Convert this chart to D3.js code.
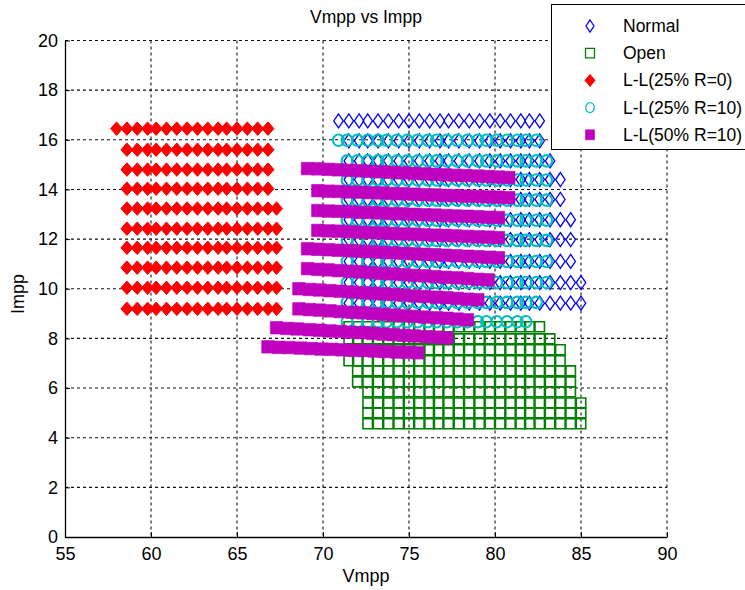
<!DOCTYPE html>
<html>
<head>
<meta charset="utf-8">
<script src="https://cdn.jsdelivr.net/npm/d3@7"></script>
<style>
body { margin: 0; background: #fff; }
text { font-family: "Liberation Sans", Arial, sans-serif; fill: #000; }
</style>
</head>
<body>
<div id="chart"></div>
<script>
// ---- data (Vmpp on x, Impp on y) ----
var xTicks = [55, 60, 65, 70, 75, 80, 85, 90];
var yTicks = [0, 2, 4, 6, 8, 10, 12, 14, 16, 18, 20];
var seriesNames = ["Normal", "Open", "L-L(25% R=0)", "L-L(25% R=10)", "L-L(50% R=10)"];

// Normal: grid of columns (Vmpp) and rows (Impp), each row uses a range of columns
var normalCols = [70.9, 71.5, 72.1, 72.6, 73.2, 73.8, 74.4, 75.0, 75.6, 76.2, 76.8, 77.3, 77.9,
                  78.5, 79.1, 79.7, 80.3, 80.9, 81.5, 82.0, 82.6, 83.2, 83.8, 84.4, 85.0];
var normalRowI = [16.76, 15.96, 15.15, 14.40, 13.60, 12.78, 11.98, 11.10, 10.25, 9.42];
var normalFrom = [0, 1, 1, 1, 1, 1, 1, 1, 1, 1];
var normalTo   = [20, 20, 21, 22, 22, 23, 23, 23, 24, 24];

// Open
var openCols = [71.5, 72.0, 72.6, 73.2, 73.8, 74.4, 75.0, 75.6, 76.2, 76.7, 77.3, 77.9,
                78.5, 79.1, 79.7, 80.3, 80.9, 81.5, 82.0, 82.6, 83.2, 83.8, 84.4, 85.0];
var openRowI = [8.47, 7.98, 7.54, 7.10, 6.69, 6.25, 5.85, 5.40, 5.00, 4.56];
var openFrom = [0, 0, 0, 0, 1, 1, 2, 2, 2, 2];
var openTo   = [19, 20, 21, 21, 22, 22, 22, 23, 23, 23];

// L-L(25% R=0)
var ll0Cols = [58.0, 58.6, 59.2, 59.8, 60.3, 60.9, 61.5, 62.1, 62.7, 63.3, 63.9, 64.4,
               65.0, 65.6, 66.2, 66.8, 67.3];
var ll0RowI = [16.45, 15.60, 14.80, 14.03, 13.23, 12.42, 11.65, 10.85, 10.04, 9.19];
var ll0From = [0, 1, 1, 1, 1, 1, 1, 1, 1, 1];
var ll0To   = [15, 15, 15, 15, 16, 16, 16, 16, 16, 16];

// L-L(25% R=10)
var ll25Cols = [70.9, 71.4, 72.0, 72.6, 73.2, 73.7, 74.3, 74.9, 75.5, 76.1, 76.6, 77.2,
                77.8, 78.4, 79.0, 79.5, 80.1, 80.7, 81.3, 81.8, 82.4, 83.0, 83.6];
var ll25RowI = [15.98, 15.15, 14.38, 13.57, 12.76, 11.95, 11.10, 10.25, 9.45, 8.67];
var ll25From = [0, 1, 1, 1, 1, 1, 1, 1, 1, 1];
var ll25To   = [20, 21, 21, 21, 21, 21, 21, 21, 20, 19];

// L-L(50% R=10): dense rows, each row listed point by point
var ll50V = [
  [69.1, 69.7, 70.3, 70.9, 71.6, 72.2, 72.8, 73.4, 74.0, 74.6, 75.3, 75.9, 76.5, 77.1, 77.7, 78.3, 79.0, 79.6, 80.2, 80.8],
  [69.7, 70.3, 70.9, 71.5, 72.2, 72.8, 73.4, 74.0, 74.6, 75.3, 75.9, 76.5, 77.1, 77.7, 78.3, 79.0, 79.6, 80.2, 80.8],
  [69.7, 70.3, 70.9, 71.6, 72.2, 72.8, 73.4, 74.0, 74.6, 75.3, 75.9, 76.5, 77.1, 77.7, 78.4, 79.0, 79.6, 80.2],
  [69.7, 70.3, 70.9, 71.6, 72.2, 72.8, 73.4, 74.0, 74.6, 75.3, 75.9, 76.5, 77.1, 77.7, 78.4, 79.0, 79.6, 80.2],
  [69.1, 69.7, 70.3, 70.9, 71.6, 72.2, 72.8, 73.4, 74.0, 74.7, 75.3, 75.9, 76.5, 77.1, 77.7, 78.4, 79.0, 79.6, 80.2],
  [69.1, 69.7, 70.3, 70.9, 71.6, 72.2, 72.8, 73.4, 74.0, 74.7, 75.3, 75.9, 76.5, 77.1, 77.8, 78.4, 79.0, 79.6],
  [68.6, 69.2, 69.8, 70.4, 71.0, 71.7, 72.3, 72.9, 73.5, 74.1, 74.7, 75.3, 75.9, 76.6, 77.2, 77.8, 78.4, 79.0],
  [68.6, 69.2, 69.8, 70.4, 71.0, 71.7, 72.3, 72.9, 73.5, 74.1, 74.7, 75.3, 75.9, 76.6, 77.2, 77.8, 78.4],
  [67.3, 67.9, 68.5, 69.2, 69.8, 70.4, 71.0, 71.6, 72.3, 72.9, 73.5, 74.1, 74.7, 75.3, 76.0, 76.6, 77.2],
  [66.8, 67.4, 68.0, 68.7, 69.3, 69.9, 70.5, 71.1, 71.8, 72.4, 73.0, 73.6, 74.3, 74.9, 75.5]
];
var ll50I = [
  [14.84, 14.83, 14.81, 14.79, 14.77, 14.75, 14.73, 14.71, 14.69, 14.67, 14.65, 14.63, 14.61, 14.59, 14.57, 14.56, 14.54, 14.52, 14.50, 14.48],
  [13.95, 13.93, 13.92, 13.90, 13.89, 13.87, 13.86, 13.84, 13.83, 13.81, 13.79, 13.78, 13.76, 13.75, 13.73, 13.72, 13.70, 13.69, 13.67],
  [13.15, 13.13, 13.12, 13.10, 13.08, 13.07, 13.05, 13.03, 13.02, 13.00, 12.98, 12.97, 12.95, 12.93, 12.92, 12.90, 12.88, 12.87],
  [12.35, 12.33, 12.32, 12.30, 12.28, 12.26, 12.25, 12.23, 12.21, 12.20, 12.18, 12.16, 12.15, 12.13, 12.11, 12.09, 12.08, 12.06],
  [11.61, 11.59, 11.57, 11.55, 11.53, 11.51, 11.49, 11.47, 11.45, 11.43, 11.41, 11.39, 11.37, 11.35, 11.33, 11.31, 11.29, 11.27, 11.25],
  [10.81, 10.78, 10.76, 10.73, 10.70, 10.68, 10.65, 10.62, 10.60, 10.57, 10.54, 10.52, 10.49, 10.46, 10.44, 10.41, 10.38, 10.36],
  [10.00, 9.97, 9.95, 9.92, 9.90, 9.87, 9.84, 9.82, 9.79, 9.77, 9.74, 9.71, 9.69, 9.66, 9.64, 9.61, 9.58, 9.56],
  [9.19, 9.16, 9.14, 9.11, 9.08, 9.05, 9.03, 9.00, 8.97, 8.94, 8.92, 8.89, 8.86, 8.83, 8.81, 8.78, 8.75],
  [8.43, 8.40, 8.38, 8.35, 8.33, 8.30, 8.28, 8.25, 8.23, 8.20, 8.17, 8.15, 8.12, 8.10, 8.07, 8.05, 8.02],
  [7.66, 7.64, 7.63, 7.61, 7.59, 7.57, 7.56, 7.54, 7.52, 7.51, 7.49, 7.47, 7.45, 7.44, 7.42]
];

function gridPoints(cols, rowI, from, to) {
    var pts = [];
    for (var r = 0; r < rowI.length; r++) {
        for (var c = from[r]; c <= to[r]; c++) {
            pts.push({v: cols[c], i: rowI[r]});
        }
    }
    return pts;
}

function listPoints(vRows, iRows) {
    var pts = [];
    for (var r = 0; r < vRows.length; r++) {
        for (var k = 0; k < vRows[r].length; k++) {
            pts.push({v: vRows[r][k], i: iRows[r][k]});
        }
    }
    return pts;
}

// marker shapes (w, h in px)
function diamondPath(w, h) {
    return "M0," + (-h / 2) + "L" + (w / 2) + ",0L0," + (h / 2) + "L" + (-w / 2) + ",0Z";
}
function squarePath(w, h) {
    return "M" + (-w / 2) + "," + (-h / 2) + "h" + w + "v" + h + "h" + (-w) + "Z";
}
function ellipsePath(w, h) {
    var rx = w / 2, ry = h / 2;
    return "M" + (-rx) + ",0A" + rx + "," + ry + " 0 1,0 " + rx + ",0A" + rx + "," + ry + " 0 1,0 " + (-rx) + ",0Z";
}

var series = [
    {name: seriesNames[0], pts: gridPoints(normalCols, normalRowI, normalFrom, normalTo),
     path: diamondPath(9.5, 14), legPath: diamondPath(8, 12), fill: "none", stroke: "#0000ff", sw: 1.3},
    {name: seriesNames[1], pts: gridPoints(openCols, openRowI, openFrom, openTo),
     path: squarePath(9.5, 10), legPath: squarePath(9, 9.5), fill: "none", stroke: "#008000", sw: 1.6},
    {name: seriesNames[2], pts: gridPoints(ll0Cols, ll0RowI, ll0From, ll0To),
     path: diamondPath(12, 13.5), legPath: diamondPath(10, 12), fill: "#ff0000", stroke: "#ff0000", sw: 1},
    {name: seriesNames[3], pts: gridPoints(ll25Cols, ll25RowI, ll25From, ll25To),
     path: ellipsePath(11, 11.5), legPath: ellipsePath(8.5, 10), fill: "none", stroke: "#00bfbf", sw: 2.1},
    {name: seriesNames[4], pts: listPoints(ll50V, ll50I),
     path: squarePath(12.5, 12.5), legPath: squarePath(9, 10), fill: "#bf00bf", stroke: "#bf00bf", sw: 0.6}
];

var margin = {top: 40.5, right: 78, bottom: 53, left: 65},
    width = 745 - margin.left - margin.right,
    height = 590 - margin.top - margin.bottom;

var svgRoot = d3.select("#chart")
    .append("svg")
    .attr("width", 745)
    .attr("height", 590);

var svg = svgRoot.append("g")
    .attr("transform", "translate(" + margin.left + "," + margin.top + ")");

var x = d3.scaleLinear().domain([55, 90]).range([0, width]);
var y = d3.scaleLinear().domain([0, 20]).range([height, 0]);

// dotted grid
svg.append("g").selectAll("line")
    .data(xTicks.slice(1))
    .enter().append("line")
    .attr("x1", function(d) { return x(d); })
    .attr("x2", function(d) { return x(d); })
    .attr("y1", 0).attr("y2", height)
    .style("stroke", "#111").style("stroke-width", 1.1).style("stroke-dasharray", "3,3");

svg.append("g").selectAll("line")
    .data(yTicks.slice(1))
    .enter().append("line")
    .attr("y1", function(d) { return y(d); })
    .attr("y2", function(d) { return y(d); })
    .attr("x1", 0).attr("x2", width)
    .style("stroke", "#111").style("stroke-width", 1.1).style("stroke-dasharray", "3,3");

// scatter markers
series.forEach(function(s) {
    svg.append("g").selectAll("path")
        .data(s.pts)
        .enter().append("path")
        .attr("d", s.path)
        .attr("transform", function(d) { return "translate(" + x(d.v) + "," + y(d.i) + ")"; })
        .style("fill", s.fill)
        .style("stroke", s.stroke)
        .style("stroke-width", s.sw);
});

// axes
var xAxis = svg.append("g")
    .attr("transform", "translate(0," + height + ")")
    .call(d3.axisBottom(x).tickValues(xTicks).tickSizeInner(-5).tickSizeOuter(0).tickPadding(8));
xAxis.selectAll("text").attr("y", 23).attr("dy", 0)
    .style("font-size", "18px").style("font-family", "Liberation Sans, Arial, sans-serif");

var yAxis = svg.append("g")
    .call(d3.axisLeft(y).tickValues(yTicks).tickSizeInner(-5).tickSizeOuter(0).tickPadding(7));
yAxis.selectAll("text")
    .style("font-size", "18px").style("font-family", "Liberation Sans, Arial, sans-serif");

svg.selectAll(".domain").style("stroke", "#000").style("stroke-width", 1.3);
svg.selectAll(".tick line").style("stroke", "#000");

// title and labels
svgRoot.append("text")
    .attr("x", margin.left + width / 2).attr("y", 23)
    .attr("text-anchor", "middle")
    .style("font-size", "17.5px")
    .text("Vmpp vs Impp");

svgRoot.append("text")
    .attr("x", margin.left + width / 2).attr("y", 582)
    .attr("text-anchor", "middle")
    .style("font-size", "18px")
    .text("Vmpp");

svgRoot.append("text")
    .attr("transform", "translate(24,294) rotate(-90)")
    .attr("text-anchor", "middle")
    .style("font-size", "18px")
    .text("Impp");

// legend
var legend = svgRoot.append("g");
legend.append("rect")
    .attr("x", 551.5).attr("y", 4.5)
    .attr("width", 200).attr("height", 145)
    .style("fill", "#fff").style("stroke", "#000").style("stroke-width", 1);

series.forEach(function(s, k) {
    var ly = 26 + k * 27.2;
    legend.append("path")
        .attr("d", s.legPath)
        .attr("transform", "translate(590," + ly + ")")
        .style("fill", s.fill)
        .style("stroke", s.stroke)
        .style("stroke-width", s.sw > 1.4 ? 1.3 : s.sw);
    legend.append("text")
        .attr("x", 623).attr("y", ly + 6)
        .style("font-size", "17.5px")
        .text(s.name);
});
</script>
</body>
</html>
